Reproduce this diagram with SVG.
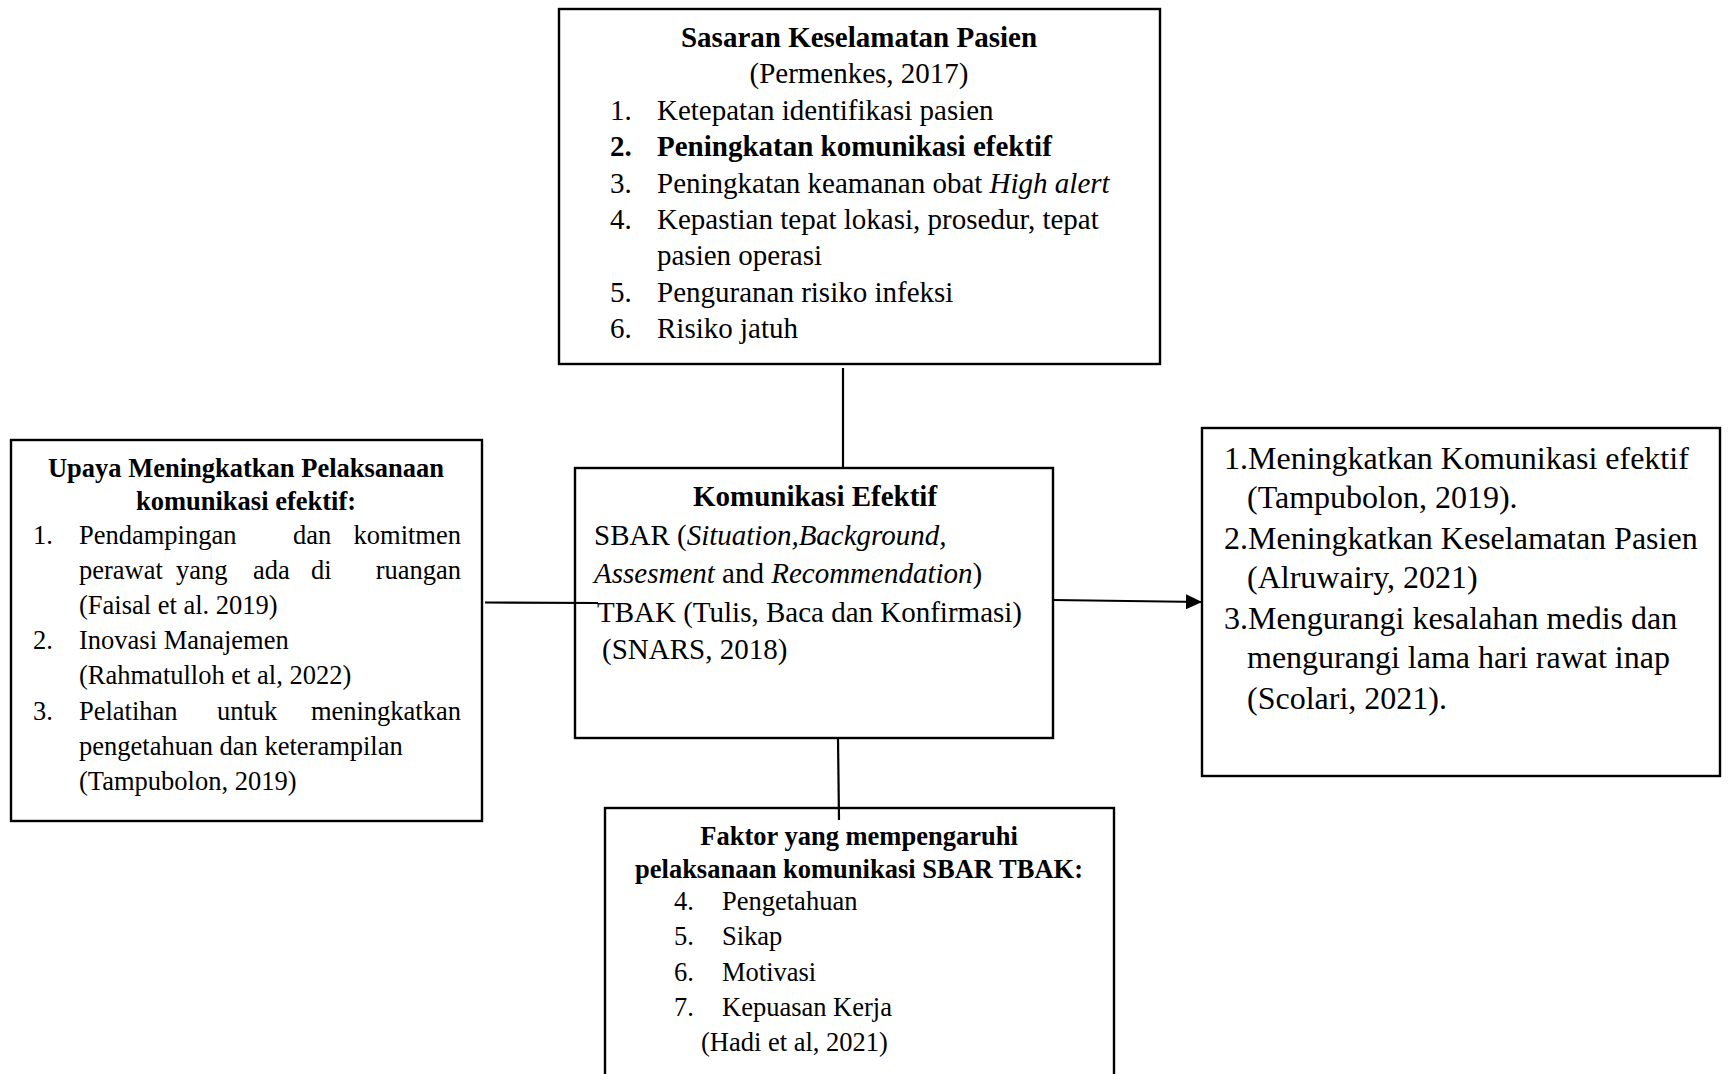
<svg xmlns="http://www.w3.org/2000/svg" width="1729" height="1074" viewBox="0 0 1729 1074">
<style>
.box{fill:#fff;stroke:#000;stroke-width:2.4}
.t{font-family:"Liberation Serif","Times New Roman",serif;fill:#000}
.b{font-weight:bold}
.i{font-style:italic}
.s29{font-size:29px}
.s26{font-size:26.5px}
.s32{font-size:32px}
.c{text-anchor:middle}
.ln{stroke:#000;stroke-width:2.2;fill:none}
</style>
<defs>
<marker id="arr" viewBox="0 0 16 15" refX="16" refY="7.5" markerWidth="16" markerHeight="15" markerUnits="userSpaceOnUse" orient="auto">
<path d="M0,0 L16,7.5 L0,15 z" fill="#000"/>
</marker>
</defs>
<rect width="1729" height="1074" fill="#fff"/>

<g id="node-sasaran">
<rect class="box" x="559" y="9" width="601" height="355"/>
<text class="t s29 b c" x="859" y="47">Sasaran Keselamatan Pasien</text>
<text class="t s29 c" x="859" y="83.4">(Permenkes, 2017)</text>
<text class="t s29" x="610" y="119.8">1.</text><text class="t s29" x="657" y="119.8">Ketepatan identifikasi pasien</text>
<text class="t s29 b" x="610" y="156.2">2.</text><text class="t s29 b" x="657" y="156.2">Peningkatan komunikasi efektif</text>
<text class="t s29" x="610" y="192.6">3.</text><text class="t s29" x="657" y="192.6">Peningkatan keamanan obat <tspan class="i">High alert</tspan></text>
<text class="t s29" x="610" y="229">4.</text><text class="t s29" x="657" y="229">Kepastian tepat lokasi, prosedur, tepat</text>
<text class="t s29" x="657" y="265.4">pasien operasi</text>
<text class="t s29" x="610" y="301.8">5.</text><text class="t s29" x="657" y="301.8">Penguranan risiko infeksi</text>
<text class="t s29" x="610" y="338.2">6.</text><text class="t s29" x="657" y="338.2">Risiko jatuh</text>
</g>

<g id="node-upaya">
<rect class="box" x="11" y="440" width="471" height="381"/>
<text class="t s26 b c" x="246" y="477">Upaya Meningkatkan Pelaksanaan</text>
<text class="t s26 b c" x="246" y="510">komunikasi efektif:</text>
<text class="t s26" x="33" y="544">1.</text>
<text class="t s26" y="544"><tspan x="79">Pendampingan</tspan><tspan x="293">dan</tspan><tspan x="461" text-anchor="end">komitmen</tspan></text>
<text class="t s26" y="579.1"><tspan x="79">perawat</tspan><tspan x="176">yang</tspan><tspan x="253">ada</tspan><tspan x="311">di</tspan><tspan x="461" text-anchor="end">ruangan</tspan></text>
<text class="t s26" x="79" y="614.2">(Faisal et al. 2019)</text>
<text class="t s26" x="33" y="649.3">2.</text><text class="t s26" x="79" y="649.3">Inovasi Manajemen</text>
<text class="t s26" x="79" y="684.4">(Rahmatulloh et al, 2022)</text>
<text class="t s26" x="33" y="719.5">3.</text>
<text class="t s26" y="719.5"><tspan x="79">Pelatihan</tspan><tspan x="217">untuk</tspan><tspan x="461" text-anchor="end">meningkatkan</tspan></text>
<text class="t s26" x="79" y="754.6">pengetahuan dan keterampilan</text>
<text class="t s26" x="79" y="789.7">(Tampubolon, 2019)</text>
</g>

<g id="node-komunikasi">
<rect class="box" x="575" y="468" width="478" height="270"/>
<text class="t s29 b c" x="815" y="506">Komunikasi Efektif</text>
<text class="t s29" x="594" y="545">SBAR (<tspan class="i">Situation,Background,</tspan></text>
<text class="t s29" x="594" y="583"><tspan class="i">Assesment</tspan> and <tspan class="i">Recommendation</tspan>)</text>
<text class="t s29" x="597" y="622">TBAK (Tulis, Baca dan Konfirmasi)</text>
<text class="t s29" x="602" y="659">(SNARS, 2018)</text>
</g>

<g id="node-hasil">
<rect class="box" x="1202" y="428" width="518" height="348"/>
<text class="t s32" x="1224" y="469">1.Meningkatkan Komunikasi efektif</text>
<text class="t s32" x="1247" y="508">(Tampubolon, 2019).</text>
<text class="t s32" x="1224" y="549">2.Meningkatkan Keselamatan Pasien</text>
<text class="t s32" x="1247" y="588">(Alruwairy, 2021)</text>
<text class="t s32" x="1224" y="629">3.Mengurangi kesalahan medis dan</text>
<text class="t s32" x="1247" y="668">mengurangi lama hari rawat inap</text>
<text class="t s32" x="1247" y="709">(Scolari, 2021).</text>
</g>

<g id="node-faktor">
<rect class="box" x="605" y="808" width="509" height="290"/>
<text class="t s26 b c" x="859" y="845">Faktor yang mempengaruhi</text>
<text class="t s26 b c" x="859" y="878">pelaksanaan komunikasi SBAR TBAK:</text>
<text class="t s26" x="674" y="910">4.</text><text class="t s26" x="722" y="910">Pengetahuan</text>
<text class="t s26" x="674" y="945">5.</text><text class="t s26" x="722" y="945">Sikap</text>
<text class="t s26" x="674" y="981">6.</text><text class="t s26" x="722" y="981">Motivasi</text>
<text class="t s26" x="674" y="1016">7.</text><text class="t s26" x="722" y="1016">Kepuasan Kerja</text>
<text class="t s26" x="701" y="1051">(Hadi et al, 2021)</text>
</g>

<g id="connectors">
<line class="ln" x1="843" y1="368" x2="843" y2="468"/>
<line class="ln" x1="485" y1="602.5" x2="598" y2="603"/>
<line class="ln" x1="1053" y1="600" x2="1202" y2="602" marker-end="url(#arr)"/>
<line class="ln" x1="838" y1="738" x2="839" y2="820"/>
</g>
</svg>
